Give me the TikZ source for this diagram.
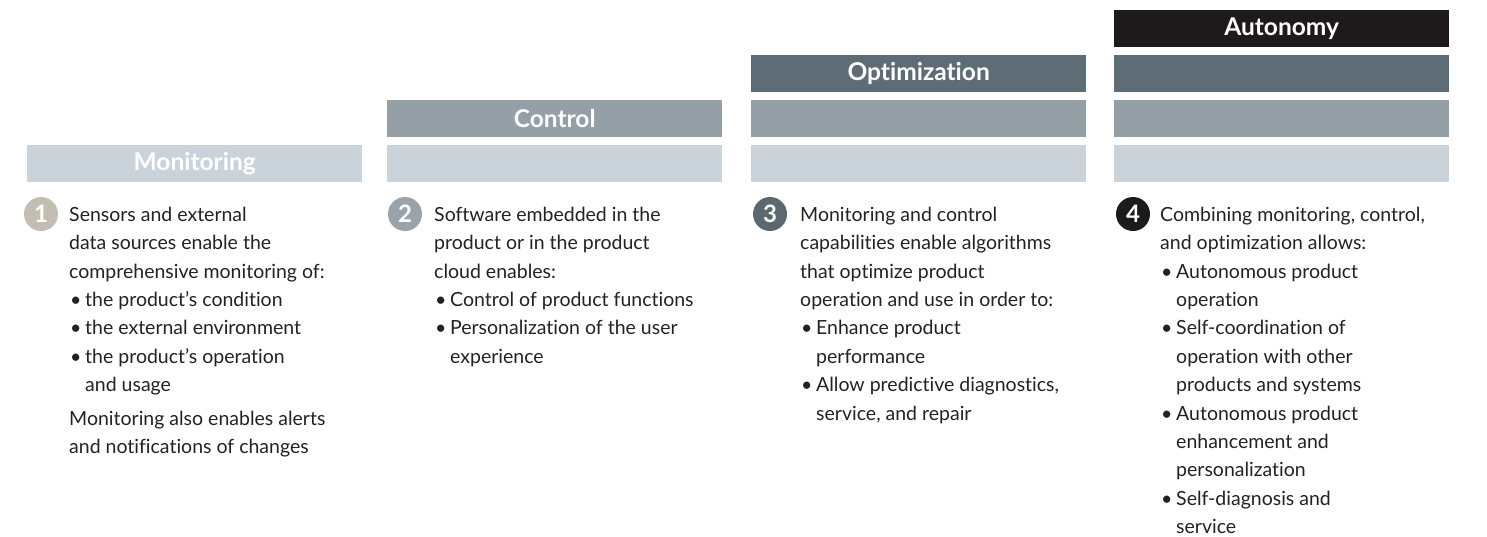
\documentclass[tikz,border=0pt]{standalone}
\usepackage{fontspec}
\setmainfont{Lato}[Ligatures=NoCommon]
\definecolor{cL}{HTML}{CAD3D9}
\definecolor{cM}{HTML}{949FA6}
\definecolor{cD}{HTML}{5E6C75}
\definecolor{cK}{HTML}{1E1A1B}
\definecolor{n1}{HTML}{C2BFB2}
\definecolor{n2}{HTML}{9AA3AA}
\definecolor{n3}{HTML}{5C6870}
\definecolor{n4}{HTML}{1C1A1B}
\definecolor{txt}{HTML}{222222}
\newcommand\bl{\makebox[16pt][l]{\hspace{1pt}•}}
\newcommand\ind{\hspace*{16pt}}
\newcommand\fl{\rule{0pt}{15pt}}
\tikzset{
  bar/.style={minimum width=335pt, minimum height=37.5pt, inner sep=0pt, anchor=north west, text=white,
    font=\fontsize{24.5}{26}\selectfont\bfseries},
  numc/.style={circle, minimum size=34pt, inner sep=0pt, text=white, font=\fontsize{24}{24}\selectfont\bfseries},
  body/.style={anchor=north west, inner sep=0pt, align=left, text=txt, font=\fontsize{19.5}{28.4}\selectfont}
}
\begin{document}
\begin{tikzpicture}[x=1pt,y=-1pt]
\useasboundingbox (0,0) rectangle (1487,536);
% column 1
\node[bar, fill=cL] (b11) at (27,144.5) {Monitoring};
% column 2
\node[bar, fill=cM] (b22) at (387,99.5) {Control};
\node[bar, fill=cL] (b21) at (387,144.5) {};
% column 3
\node[bar, fill=cD] (b33) at (751,54.5) {Optimization};
\node[bar, fill=cM] (b32) at (751,99.5) {};
\node[bar, fill=cL] (b31) at (751,144.5) {};
% column 4
\node[bar, fill=cK] (b44) at (1114,9.5) {Autonomy};
\node[bar, fill=cD] (b43) at (1114,54.5) {};
\node[bar, fill=cM] (b42) at (1114,99.5) {};
\node[bar, fill=cL] (b41) at (1114,144.5) {};
% number circles
\node[numc, fill=n1] (c1) at (41,214) {1};
\node[numc, fill=n2] (c2) at (405,214) {2};
\node[numc, fill=n3] (c3) at (770,214) {3};
\node[numc, fill=n4] (c4) at (1133,214) {4};
% texts
\node[body] (t1) at (69,206) {\fl Sensors and external\\
data sources enable the\\
comprehensive monitoring of:\\
\bl the product’s condition\\
\bl the external environment\\
\bl the product’s operation\\
\ind and usage\\[5pt]
Monitoring also enables alerts\\
and notifications of changes};
\node[body] (t2) at (434,206) {\fl Software embedded in the\\
product or in the product\\
cloud enables:\\
\bl Control of product functions\\
\bl Personalization of the user\\
\ind experience};
\node[body] (t3) at (800,206) {\fl Monitoring and control\\
capabilities enable algorithms\\
that optimize product\\
operation and use in order to:\\
\bl Enhance product\\
\ind performance\\
\bl Allow predictive diagnostics,\\
\ind service, and repair};
\node[body] (t4) at (1160,206) {\fl Combining monitoring, control,\\
and optimization allows:\\
\bl Autonomous product\\
\ind operation\\
\bl Self-coordination of\\
\ind operation with other\\
\ind products and systems\\
\bl Autonomous product\\
\ind enhancement and\\
\ind personalization\\
\bl Self-diagnosis and\\
\ind service};
\end{tikzpicture}
\end{document}
